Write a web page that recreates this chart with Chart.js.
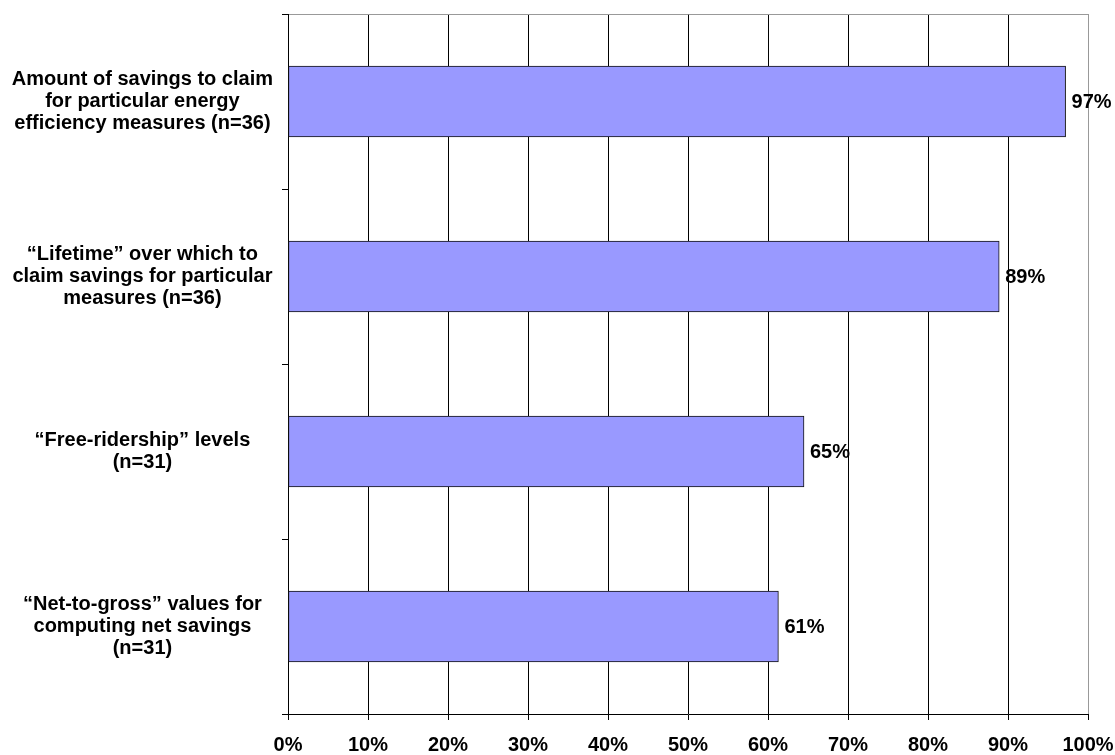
<!DOCTYPE html>
<html>
<head>
<meta charset="utf-8">
<title>Savings claims</title>
<script src="https://cdn.jsdelivr.net/npm/chart.js@4/dist/chart.umd.min.js"></script>
<style>
    html, body { margin: 0; padding: 0; background: #fff; }
    #wrap { width: 1115px; height: 755px; }
</style>
</head>
<body>
<div id="wrap"><canvas id="chart" width="1115" height="755"></canvas></div>
<script>
// categories (top to bottom)
const categories = [
    ['Amount of savings to claim', 'for particular energy', 'efficiency measures (n=36)'],
    ['\u201cLifetime\u201d over which to', 'claim savings for particular', 'measures (n=36)'],
    ['\u201cFree-ridership\u201d levels', '(n=31)'],
    ['\u201cNet-to-gross\u201d values for', 'computing net savings', '(n=31)']
];
// share of respondents, percent
const shares = [97.2, 88.9, 64.5, 61.3];
const xTicks = [0, 10, 20, 30, 40, 50, 60, 70, 80, 90, 100];

const FONT = "'Liberation Sans', Arial, sans-serif";

// keep the plot box fixed: no extra room for overhanging labels
function noOverhang(scale) {
    scale.paddingTop = 0;
    scale.paddingBottom = 0;
    scale.paddingLeft = 0;
    scale.paddingRight = 0;
}

// percent label to the right of every bar
const barValueLabels = {
    id: 'barValueLabels',
    afterDatasetsDraw(chart) {
        const ctx = chart.ctx;
        const meta = chart.getDatasetMeta(0);
        ctx.save();
        ctx.font = 'bold 20px ' + FONT;
        ctx.fillStyle = '#000';
        ctx.textAlign = 'left';
        ctx.textBaseline = 'middle';
        meta.data.forEach((bar, i) => {
            ctx.fillText(Math.round(shares[i]) + '%', bar.x + 6, bar.y + 1);
        });
        ctx.restore();
    }
};

new Chart(document.getElementById('chart').getContext('2d'), {
    type: 'bar',
    data: {
        labels: categories,
        datasets: [{
            data: shares,
            backgroundColor: '#9999FF',
            borderColor: '#111',
            borderWidth: 1,
            borderSkipped: false,
            barThickness: 71
        }]
    },
    options: {
        indexAxis: 'y',
        responsive: false,
        animation: false,
        layout: { padding: { top: 14, right: 27, left: 0, bottom: 0 } },
        plugins: {
            legend: { display: false },
            tooltip: { enabled: false }
        },
        scales: {
            x: {
                min: 0,
                max: 100,
                afterBuildTicks: scale => {
                    scale.ticks = xTicks.map(v => ({ value: v }));
                },
                afterFit: scale => {
                    scale.height = 41;
                    noOverhang(scale);
                },
                border: { color: '#000', width: 1 },
                grid: {
                    color: c => (c.tick && c.tick.value === 100) ? '#999' : '#000',
                    tickColor: '#000',
                    tickLength: 6,
                    lineWidth: 1
                },
                ticks: {
                    color: '#000',
                    padding: 13,
                    maxRotation: 0,
                    autoSkip: false,
                    font: { family: FONT, size: 20, weight: 'bold' },
                    callback: v => v + '%'
                }
            },
            y: {
                afterFit: scale => {
                    scale.width = 288;
                    noOverhang(scale);
                },
                border: { color: '#000', width: 1 },
                grid: {
                    offset: true,
                    color: c => c.index === 0 ? '#999' : 'rgba(0,0,0,0)',
                    tickColor: '#000',
                    tickLength: 6,
                    lineWidth: 1
                },
                ticks: {
                    color: '#000',
                    crossAlign: 'center',
                    padding: 9,
                    font: { family: FONT, size: 20, weight: 'bold', lineHeight: 1.1 }
                }
            }
        }
    },
    plugins: [barValueLabels]
});
</script>
</body>
</html>
